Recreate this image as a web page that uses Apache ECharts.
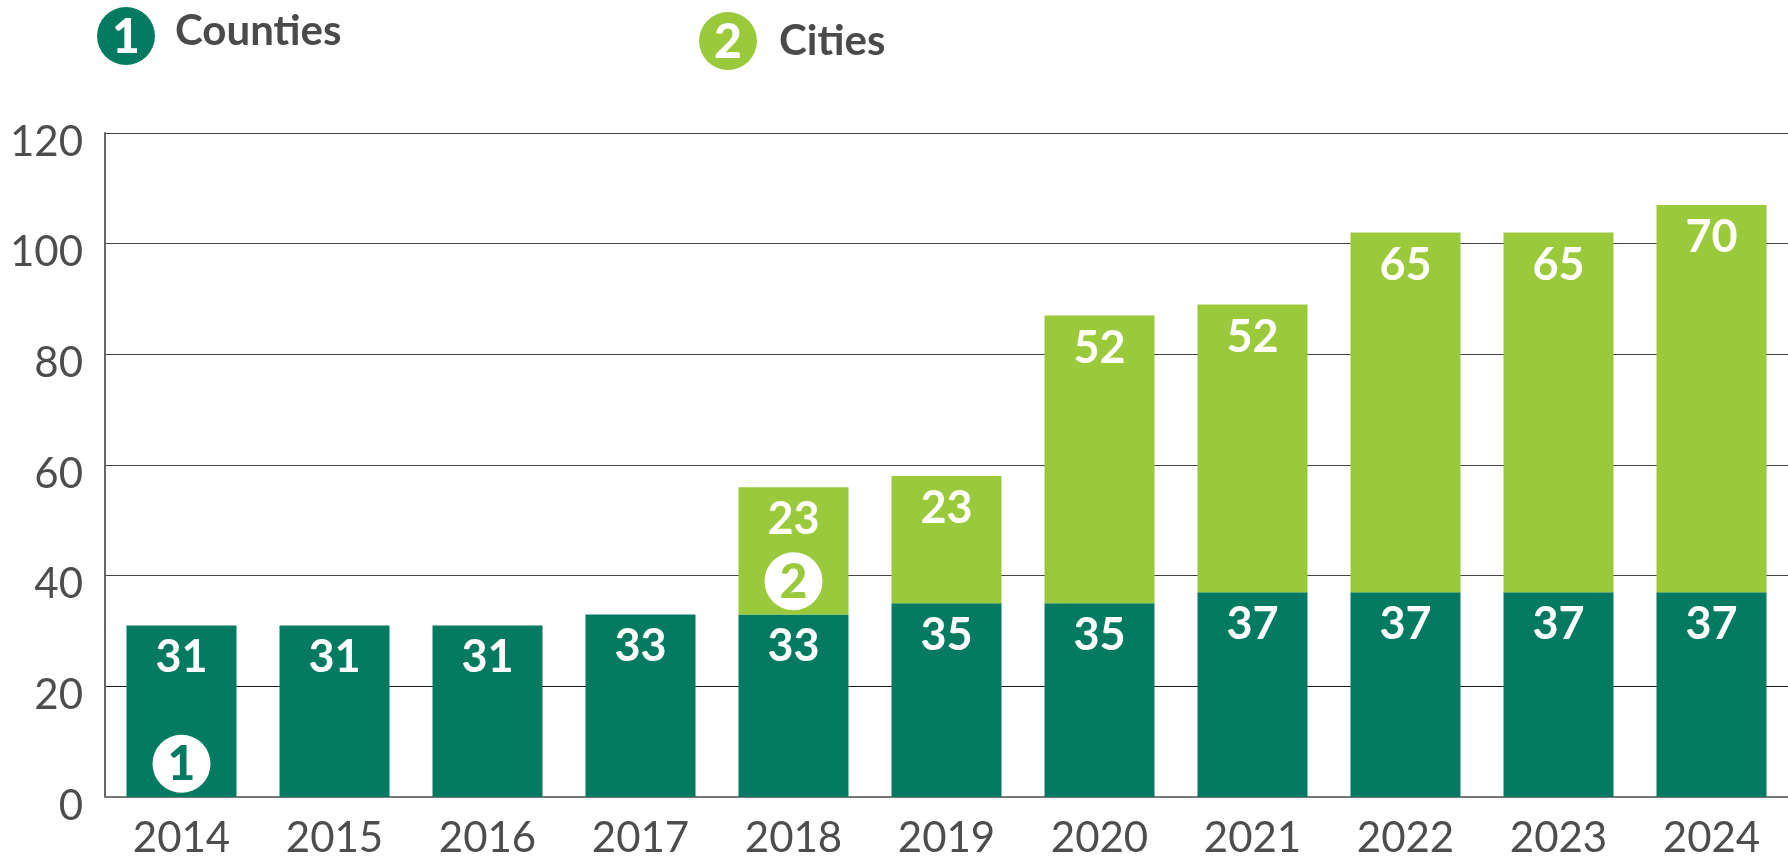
<!DOCTYPE html>
<html>
<head>
<meta charset="utf-8">
<script src="https://cdn.jsdelivr.net/npm/echarts@6/dist/echarts.min.js"></script>
<style>
  html, body { margin: 0; padding: 0; background: #fff; }
  #chart { width: 1788px; height: 859px; }
</style>
</head>
<body>
<div id="chart"></div>
<script>
// Years along the bottom axis
const years = ['2014', '2015', '2016', '2017', '2018', '2019', '2020', '2021', '2022', '2023', '2024'];
// Participants per year, stacked
const counties = [31, 31, 31, 33, 33, 35, 35, 37, 37, 37, 37];
const cities = [null, null, null, null, 23, 23, 52, 52, 65, 65, 70];
const seriesNames = ['Counties', 'Cities'];
// Value axis ticks
const yMin = 0, yMax = 120, yStep = 20;

const DARK = '#047b60';
const LIGHT = '#9aca3c';
const TEXT = '#4d4d4d';
const FONT = 'Lato, "Open Sans", sans-serif';

const chart = echarts.init(document.getElementById('chart'), null, { renderer: 'canvas' });

const barLabel = {
  show: true,
  position: 'insideTop',
  distance: 10,
  color: '#fff',
  fontFamily: FONT,
  fontWeight: 'bold',
  fontSize: 45
};

// Numbered badge drawn inside a bar
function badge(num, color, year, yVal) {
  return {
    symbol: 'circle',
    symbolSize: 58,
    silent: true,
    itemStyle: { color: '#fff' },
    label: {
      show: true, formatter: String(num), color: color,
      fontFamily: FONT, fontWeight: 900, fontSize: 48, offset: [0, 1]
    },
    data: [{ coord: [year, yVal] }]
  };
}

// Legend entry: filled numbered circle followed by the series name
function legendItem(num, color, cx, cy, name, tx, ty) {
  return [
    { type: 'circle', shape: { cx: cx, cy: cy, r: 29 }, style: { fill: color }, silent: true },
    { type: 'text', x: cx, y: cy + 2, style: {
        text: String(num), fill: '#fff', font: '900 48px ' + FONT,
        textAlign: 'center', textVerticalAlign: 'middle' } },
    { type: 'text', x: tx, y: ty, style: {
        text: name, fill: '#4a4a4a', font: 'bold 42px ' + FONT,
        textAlign: 'left', textVerticalAlign: 'middle' } }
  ];
}

chart.setOption({
  animation: false,
  backgroundColor: '#fff',
  grid: { left: 105, top: 133, width: 1686, height: 665, containLabel: false },
  graphic: [].concat(
    legendItem(1, DARK, 126, 36, seriesNames[0], 175, 31),
    legendItem(2, LIGHT, 728, 41, seriesNames[1], 779, 41)
  ),
  xAxis: {
    type: 'category',
    data: years,
    axisTick: { show: false },
    axisLine: { show: true, lineStyle: { color: '#777', width: 2 } },
    axisLabel: { color: TEXT, fontFamily: FONT, fontSize: 42, margin: 20 }
  },
  yAxis: {
    type: 'value',
    min: yMin, max: yMax, interval: yStep,
    axisLine: { show: true, lineStyle: { color: '#666', width: 2 } },
    axisTick: { show: false },
    splitLine: { show: true, lineStyle: { color: ['#444', '#1a1a1a', '#444', '#444', '#444', '#444', '#444'], width: 1.2 } },
    axisLabel: {
      color: TEXT, fontFamily: FONT, fontSize: 42, margin: 22,
      verticalAlign: 'top', lineHeight: 18
    }
  },
  series: [
    {
      name: seriesNames[0], type: 'bar', stack: 'total', data: counties,
      barWidth: 110, itemStyle: { color: DARK }, label: barLabel,
      markPoint: badge(1, DARK, '2014', 6)
    },
    {
      name: seriesNames[1], type: 'bar', stack: 'total', data: cities,
      barWidth: 110, itemStyle: { color: LIGHT }, label: barLabel,
      markPoint: badge(2, LIGHT, '2018', 39)
    }
  ]
});
</script>
</body>
</html>
